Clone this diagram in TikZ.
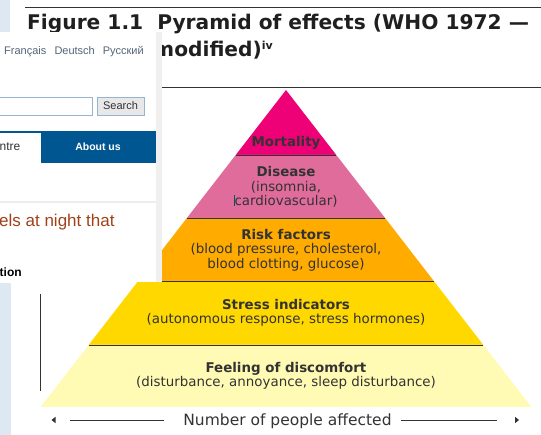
\documentclass[tikz,border=0pt]{standalone}
\usepackage{xcolor}
\usepackage{fontspec}
\setmainfont{DejaVu Sans}
\newfontfamily\webfont{Liberation Sans}
\usepackage{tikz}
\usetikzlibrary{positioning}

\definecolor{ink}{RGB}{51,51,51}
\definecolor{mortal}{RGB}{238,0,119}
\definecolor{disease}{RGB}{224,108,156}
\definecolor{risk}{RGB}{255,171,0}
\definecolor{stress}{RGB}{255,216,0}
\definecolor{discomfort}{RGB}{255,250,180}
\definecolor{navy}{RGB}{0,86,145}
\definecolor{paleblue}{RGB}{221,232,243}
\definecolor{rust}{RGB}{160,65,25}
\definecolor{slate}{RGB}{85,100,120}
\definecolor{boxedge}{RGB}{150,180,205}

\begin{document}
\begin{tikzpicture}[x=1pt,y=-1pt,
  layer/.style={align=center,inner sep=0pt,text=ink,font=\fontsize{13.4}{14.5}\selectfont},
  web/.style={inner sep=0pt,anchor=base west,text=ink,font=\webfont\fontsize{11}{13}\selectfont},
  border/.style={draw=ink,line width=0.9pt},
  tip/.style={fill=ink}]

\useasboundingbox (0,0) rectangle (541,435);

% The pyramid, apex at (286,90)
\fill[mortal] (286,90) -- (336.3,155) -- (235.7,155) -- cycle;
\fill[disease] (235.7,155) -- (336.3,155) -- (385.1,218) -- (186.9,218) -- cycle;
\fill[risk] (186.9,218) -- (385.1,218) -- (433.8,281) -- (138.2,281) -- cycle;
\fill[stress] (138.2,281) -- (433.8,281) -- (483.4,345) -- (88.6,345) -- cycle;
\fill[discomfort] (88.6,345) -- (483.4,345) -- (531.4,407) -- (40.6,407) -- cycle;
\draw[border] (235.7,155) -- (336.3,155);
\draw[border] (186.9,218) -- (385.1,218);
\draw[border] (138.2,281) -- (433.8,281);
\draw[border] (88.6,345) -- (483.4,345);

% Layer labels
\node [layer] at (286,143) (mort) {\textbf{Mortality}};
\node [layer] at (286,187) (dis) {\textbf{Disease}\\(insomnia,\\cardiovascular)};
\node [layer] at (286,250) (riskf) {\textbf{Risk factors}\\(blood pressure, cholesterol,\\blood clotting, glucose)};
\node [layer] at (286,313) (stressi) {\textbf{Stress indicators}\\(autonomous response, stress hormones)};
\node [layer] at (286,376) (feel) {\textbf{Feeling of discomfort}\\(disturbance, annoyance, sleep disturbance)};
\draw[teal!70!black,line width=0.6pt] (234.3,195) -- (234.3,206.5);

% Axis under the base
\node [anchor=base,inner sep=0pt,text=ink,font=\fontsize{15.5}{18}\selectfont] at (287.5,426) (count) {Number of people affected};
\coordinate (lend) at (70,420);
\coordinate (lgap) at (164,420);
\coordinate (rgap) at (401,420);
\coordinate (rend) at (497,420);
\draw[border] (lend) -- (lgap);
\draw[border] (rgap) -- (rend);
\fill[tip] (51.5,420) -- (55.5,416.8) -- (55.5,423.2) -- cycle;
\fill[tip] (519,420) -- (515,416.8) -- (515,423.2) -- cycle;

% Heading
\draw[border] (25,7) -- (541,7);
\draw[border] (150,87) -- (541,87);
\node [anchor=base west,inner sep=0pt,text=black!88,font=\bfseries\fontsize{20.2}{24}\selectfont] at (27,30) (title) {Figure 1.1\hspace{0.7em}Pyramid of effects (WHO 1972 —};
\node [anchor=base west,inner sep=0pt,text=black!88,font=\bfseries\fontsize{20.2}{24}\selectfont] at (153,57) (title2) {modified){\fontsize{11}{12}\selectfont\raisebox{7pt}{iv}}};

% Page panel on top
\fill[paleblue] (0,0) rectangle (10,33);
\fill[paleblue] (0,283) rectangle (11,435);
\fill[white] (0,32) rectangle (156,282);
\fill[black!6] (156,32) rectangle (162,282);
\draw[ink,line width=0.8pt] (40,294) -- (40,391);

\node [web,text=slate] at (4,54.3) (fr) {Français};
\node [web,text=slate] at (54.3,54.3) (de) {Deutsch};
\node [web,text=slate] at (102.7,54.3) (ru) {Русский};

\draw[boxedge,fill=white] (-1,97) rectangle (92,115);
\draw[boxedge,fill=black!9] (97,97) rectangle (144,115);
\node [web,anchor=center] at (120.5,106) (search) {Search};

\fill[navy] (0,131) rectangle (156,163);
\fill[white] (0,133) rectangle (40.5,163);
\node [web,font=\webfont\fontsize{12}{14}\selectfont] at (-0.5,150.5) (tab) {ntre};
\node [web,anchor=center,text=white,font=\webfont\bfseries\fontsize{10.5}{13}\selectfont] at (98,147) (about) {About us};

\draw[black!7,line width=2pt] (0,202) -- (156,202);
\node [web,text=rust,font=\webfont\fontsize{17}{20}\selectfont] at (-1,227) (lead) {els at night that};
\node [web,text=black,font=\webfont\bfseries\fontsize{12}{14}\selectfont] at (-0.5,277) (sect) {tion};

\end{tikzpicture}
\end{document}
